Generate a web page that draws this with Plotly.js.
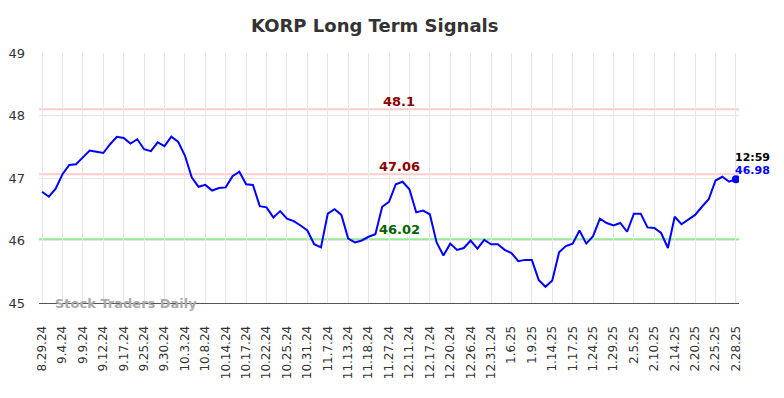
<!DOCTYPE html>
<html>
<head>
<meta charset="utf-8">
<script src="https://cdn.plot.ly/plotly-3.0.1.min.js"></script>
<style>html,body{margin:0;padding:0;background:#fff}#chart{width:784px;height:398px}</style>
</head>
<body>
<div id="chart"></div>
<script>
const tickLabels = ["8.29.24","9.4.24","9.9.24","9.12.24","9.17.24","9.25.24","9.30.24","10.3.24","10.8.24","10.14.24","10.17.24","10.22.24","10.25.24","10.31.24","11.7.24","11.13.24","11.18.24","11.27.24","12.11.24","12.17.24","12.20.24","12.26.24","12.31.24","1.6.25","1.9.25","1.14.25","1.17.25","1.24.25","1.29.25","2.5.25","2.10.25","2.14.25","2.20.25","2.25.25","2.28.25"];
const prices = [46.78,46.70,46.83,47.06,47.21,47.22,47.33,47.44,47.42,47.40,
47.54,47.66,47.64,47.55,47.62,47.46,47.43,47.57,47.51,47.66,
47.58,47.36,47.01,46.86,46.89,46.80,46.84,46.85,47.03,47.10,
46.90,46.89,46.55,46.53,46.37,46.47,46.35,46.31,46.24,46.16,
45.94,45.89,46.43,46.50,46.41,46.03,45.97,46.00,46.06,46.10,
46.54,46.62,46.90,46.94,46.82,46.45,46.48,46.42,45.97,45.76,
45.95,45.85,45.88,46.00,45.87,46.01,45.94,45.94,45.85,45.80,
45.67,45.69,45.69,45.37,45.26,45.36,45.81,45.91,45.95,46.16,
45.95,46.07,46.35,46.28,46.24,46.28,46.14,46.43,46.43,46.21,
46.20,46.12,45.88,46.38,46.26,46.33,46.41,46.54,46.66,46.96,
47.02,46.94,46.98];
const resistanceLevels = [48.1, 47.06];
const supportLevels = [46.02];
const lastTime = "12:59";
const pointsPerTick = 3;

const xs = prices.map((_, i) => i);
const tickVals = tickLabels.map((_, i) => i * pointsPerTick);
const lastIdx = prices.length - 1;
const labelX = 52.5;

const shapes = [];
const annotations = [];
resistanceLevels.forEach(v => {
  shapes.push({type:'line', xref:'paper', x0:0, x1:1, yref:'y', y0:v, y1:v, line:{color:'#ffcccc', width:2}, layer:'below'});
  annotations.push({x:labelX, y:v, xref:'x', yref:'y', text:'<b>'+v+'</b>', showarrow:false, yanchor:'bottom', yshift:-2, font:{family:'DejaVu Sans', size:13, color:'#8b0000'}});
});
supportLevels.forEach(v => {
  shapes.push({type:'line', xref:'paper', x0:0, x1:1, yref:'y', y0:v, y1:v, line:{color:'#90ee90', width:2}, layer:'below'});
  annotations.push({x:labelX, y:v, xref:'x', yref:'y', text:'<b>'+v.toFixed(2)+'</b>', showarrow:false, yanchor:'bottom', yshift:0, font:{family:'DejaVu Sans', size:13, color:'#006400'}});
});
annotations.push({x:lastIdx, y:prices[lastIdx], xref:'x', yref:'y', text:'<b>'+lastTime+'</b>', showarrow:false, xanchor:'center', yanchor:'bottom', xshift:17, yshift:13, font:{family:'DejaVu Sans', size:11, color:'#000'}});
annotations.push({x:lastIdx, y:prices[lastIdx], xref:'x', yref:'y', text:'<b>'+prices[lastIdx].toFixed(2)+'</b>', showarrow:false, xanchor:'center', yanchor:'bottom', xshift:17, yshift:0, font:{family:'DejaVu Sans', size:11, color:'#0000ff'}});
annotations.push({x:0.02, y:45, xref:'paper', yref:'y', text:'<b>Stock Traders Daily</b>', showarrow:false, xanchor:'left', yanchor:'middle', font:{family:'DejaVu Sans', size:13, color:'#aaaaaa'}});

const traces = [
  {x:xs, y:prices, type:'scatter', mode:'lines', line:{color:'#0000ff', width:2}, hoverinfo:'skip'},
  {x:[lastIdx], y:[prices[lastIdx]], type:'scatter', mode:'markers', marker:{color:'#0000ff', size:8}, hoverinfo:'skip'}
];

const layout = {
  width:784, height:398,
  margin:{l:39, r:45, t:53, b:95},
  paper_bgcolor:'#fff', plot_bgcolor:'#fff',
  showlegend:false,
  title:{text:'<b>KORP Long Term Signals</b>', x:0.478, xanchor:'center', y:0.935, yanchor:'middle', font:{family:'DejaVu Sans', size:18, color:'#333333'}},
  xaxis:{range:[-0.45, lastIdx+0.45], tickvals:tickVals, ticktext:tickLabels, tickangle:-90, showgrid:true, gridcolor:'#e6e6e6', gridwidth:1, zeroline:false, showline:true, linecolor:'#555', linewidth:1, ticks:'', ticklabelstandoff:17, tickfont:{family:'DejaVu Sans', size:12, color:'#333'}, fixedrange:true},
  yaxis:{range:[45,49], tickvals:[45,46,47,48,49], showgrid:true, gridcolor:'#e6e6e6', gridwidth:1, zeroline:false, showline:false, ticks:'', ticklabelstandoff:13, tickfont:{family:'DejaVu Sans', size:13, color:'#333'}, fixedrange:true},
  shapes:shapes,
  annotations:annotations
};
Plotly.newPlot('chart', traces, layout, {displayModeBar:false, staticPlot:true});
</script>
</body>
</html>
